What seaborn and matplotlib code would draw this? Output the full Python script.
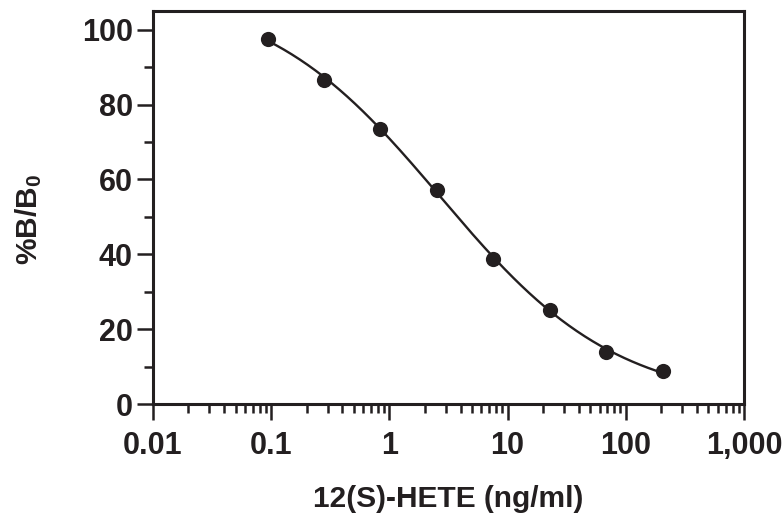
import numpy as np
import pandas as pd
import matplotlib
matplotlib.use("Agg")
import matplotlib.pyplot as plt
import matplotlib.ticker as mticker
import seaborn as sns

# standard curve values
conc = [0.094, 0.28, 0.84, 2.53, 7.6, 22.8, 68.5, 205.0]
pct_b_b0 = [97.5, 86.6, 73.5, 57.1, 38.8, 25.2, 13.9, 8.8]
x_ticks = [0.01, 0.1, 1, 10, 100, 1000]
x_tick_labels = ["0.01", "0.1", "1", "10", "100", "1,000"]
y_ticks = [0, 20, 40, 60, 80, 100]

INK = "#231f20"

# 4-parameter logistic fit (Gauss-Newton, numpy only)
lx = np.log10(conc)
yv = np.array(pct_b_b0)

def four_pl(lx, p):
    top, bot, lc, h = p
    return bot + (top - bot) / (1 + 10 ** (h * (lx - lc)))

p = np.array([100.0, 0.0, 0.5, 0.8])
lam = 1e-2
for i in range(200):
    r = yv - four_pl(lx, p)
    J = np.zeros((len(lx), 4))
    for k in range(4):
        dp = np.zeros(4)
        dp[k] = 1e-6
        J[:, k] = (four_pl(lx, p + dp) - four_pl(lx, p - dp)) / 2e-6
    A = J.T @ J
    step = np.linalg.solve(A + lam * np.diag(np.diag(A)), J.T @ r)
    p_new = p + step
    if np.sum((yv - four_pl(lx, p_new)) ** 2) < np.sum(r ** 2):
        p = p_new
        lam *= 0.5
    else:
        lam *= 4

fit_lx = np.linspace(lx.min(), lx.max(), 300)
fit = pd.DataFrame({"conc": 10 ** fit_lx, "pct": four_pl(fit_lx, p)})
pts = pd.DataFrame({"conc": conc, "pct": pct_b_b0})

sns.set_theme(style="ticks")
plt.rcParams["font.family"] = ["Liberation Sans", "DejaVu Sans"]
plt.rcParams["font.weight"] = "bold"
plt.rcParams["mathtext.fontset"] = "custom"
plt.rcParams["mathtext.bf"] = "Liberation Sans:bold"
plt.rcParams["mathtext.rm"] = "Liberation Sans:bold"
plt.rcParams["mathtext.default"] = "bf"

fig = plt.figure(figsize=(7.84, 5.15), dpi=100)
ax = fig.add_axes([0.195, 0.2155, 0.754, 0.763])
ax.set_xscale("log")

sns.lineplot(data=fit, x="conc", y="pct", ax=ax, color=INK, linewidth=1.7)
sns.scatterplot(data=pts, x="conc", y="pct", ax=ax, color=INK, s=120,
                edgecolor=INK, linewidth=0, zorder=3, clip_on=False)

ax.set_xlim(0.01, 1000)
ax.set_ylim(0, 105)
ax.set_xticks(x_ticks)
ax.set_xticklabels(x_tick_labels)
ax.xaxis.set_minor_locator(mticker.LogLocator(base=10, subs=np.arange(2, 10)))
ax.xaxis.set_minor_formatter(mticker.NullFormatter())
ax.set_yticks(y_ticks)
ax.yaxis.set_minor_locator(mticker.MultipleLocator(10))

for s in ax.spines.values():
    s.set_linewidth(2.2)
    s.set_color(INK)
    s.set_visible(True)

ax.tick_params(axis="both", which="major", length=11.5, width=1.8, color=INK,
               labelsize=22, labelcolor=INK, direction="out")
ax.tick_params(axis="both", which="minor", length=6.5, width=1.8, color=INK,
               direction="out")
ax.tick_params(axis="x", which="major", pad=8)
ax.tick_params(axis="y", which="major", pad=3)
ax.tick_params(top=False, right=False, which="both")

ax.set_xlabel("12(S)-HETE (ng/ml)", fontsize=21.5, fontweight="bold", color=INK)
ax.xaxis.set_label_coords(0.5, -0.205)
ax.set_ylabel("%B/B$_0$", fontsize=21.5, fontweight="bold", color=INK)
ax.yaxis.set_label_coords(-0.185, 0.47)

fig.savefig("out.png", dpi=100)
